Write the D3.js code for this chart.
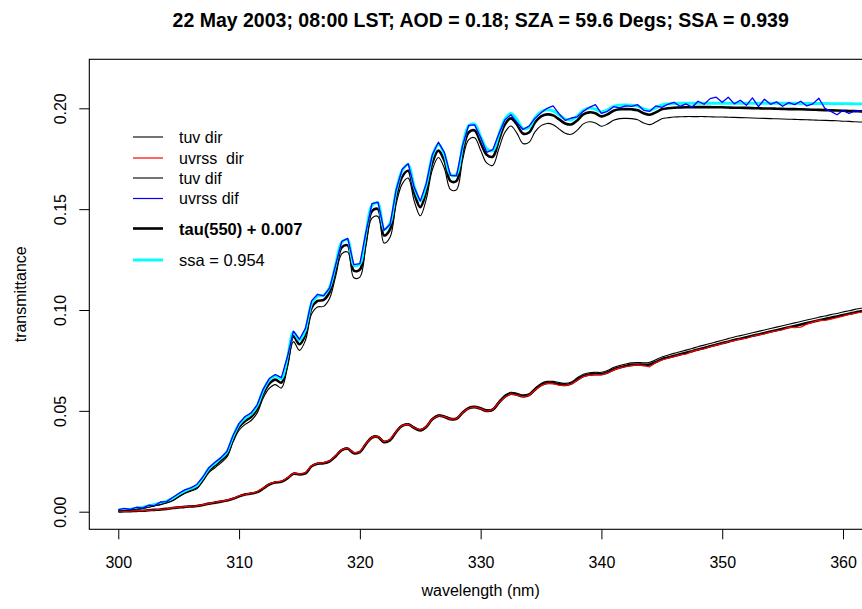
<!DOCTYPE html>
<html>
<head>
<meta charset="utf-8">
<script src="https://cdn.jsdelivr.net/npm/d3@7"></script>
<style>
  body { margin: 0; background: #fff; }
  svg text { font-family: "Liberation Sans", Arial, Helvetica, sans-serif; fill: #000; }
</style>
</head>
<body>
<div id="chart"></div>
<script>
// wavelength grid (nm), 0.5 nm steps
const wavelength = d3.range(300, 362.001, 0.5);

// diffuse transmittances
const tauDif = [.0005,.0008,.0011,.0015,.0020,.0026,.0033,.0040,.0048,.0060,
 .0080,.0097,.0110,.0122,.0160,.0205,.0230,.0255,.0285,.0360,
 .0420,.0450,.0470,.0510,.0585,.0635,.0655,.0640,.0740,.0870,
 .0830,.0880,.1010,.1045,.1050,.1090,.1200,.1310,.1320,.1195,
 .1200,.1350,.1490,.1500,.1370,.1400,.1560,.1660,.1690,.1580,
 .1510,.1590,.1730,.1790,.1740,.1640,.1640,.1780,.1880,.1890,
 .1830,.1770,.1760,.1840,.1920,.1950,.1920,.1875,.1880,.1930,
 .1960,.1970,.1965,.1945,.1925,.1920,.1940,.1970,.1980,.1975,
 .1960,.1970,.1988,.1995,.1996,.1995,.1990,.1975,.1968,.1980,
 .1995,.2000,.2003,.2004,.2005,.2006,.2006,.2006,.2006,.2005,
 .2005,.2004,.2003,.2003,.2002,.2001,.2000,.1999,.1999,.1998,
 .1997,.1996,.1996,.1995,.1994,.1993,.1992,.1991,.1990,.1989,
 .1988,.1987,.1986,.1985,.1984];

const tuvDif = [.0004,.0006,.0009,.0012,.0017,.0022,.0029,.0035,.0043,.0054,
 .0073,.0090,.0102,.0113,.0150,.0194,.0218,.0242,.0271,.0345,
 .0404,.0433,.0452,.0490,.0564,.0612,.0630,.0613,.0713,.0843,
 .0800,.0850,.0980,.1015,.1018,.1058,.1168,.1278,.1287,.1160,
 .1163,.1315,.1455,.1464,.1332,.1361,.1523,.1624,.1654,.1540,
 .1467,.1550,.1695,.1756,.1702,.1598,.1596,.1742,.1844,.1854,
 .1792,.1729,.1717,.1798,.1880,.1912,.1877,.1826,.1831,.1883,
 .1914,.1925,.1919,.1897,.1876,.1871,.1892,.1923,.1933,.1927,
 .1911,.1922,.1941,.1949,.1950,.1949,.1943,.1927,.1919,.1932,
 .1948,.1953,.1957,.1958,.1959,.1959,.1959,.1959,.1958,.1957,
 .1957,.1956,.1955,.1954,.1953,.1952,.1951,.1950,.1949,.1948,
 .1947,.1946,.1945,.1944,.1943,.1942,.1941,.1940,.1939,.1938,
 .1936,.1935,.1933,.1932,.1931];

const ssaDif = [.0007,.0010,.0013,.0017,.0022,.0029,.0036,.0044,.0053,.0066,
 .0086,.0103,.0116,.0129,.0168,.0214,.0240,.0266,.0296,.0372,
 .0433,.0464,.0485,.0526,.0602,.0653,.0674,.0660,.0760,.0890,
 .0851,.0902,.1032,.1068,.1073,.1114,.1225,.1336,.1347,.1222,
 .1228,.1378,.1518,.1530,.1400,.1430,.1590,.1690,.1722,.1612,
 .1542,.1622,.1763,.1822,.1772,.1672,.1672,.1812,.1912,.1922,
 .1860,.1800,.1790,.1868,.1946,.1975,.1945,.1900,.1905,.1954,
 .1983,.1992,.1987,.1967,.1947,.1942,.1962,.1991,.2001,.1996,
 .1982,.1992,.2010,.2016,.2017,.2016,.2011,.1997,.1990,.2002,
 .2017,.2022,.2024,.2025,.2025,.2025,.2025,.2025,.2025,.2025,
 .2025,.2025,.2025,.2025,.2025,.2025,.2025,.2025,.2025,.2025,
 .2025,.2025,.2025,.2024,.2024,.2024,.2024,.2024,.2023,.2023,
 .2023,.2023,.2022,.2022,.2022];

const uvrssDif = [.0010,.0016,.0012,.0022,.0018,.0032,.0030,.0048,.0050,.0070,
 .0090,.0108,.0118,.0135,.0172,.0218,.0245,.0268,.0300,.0378,
 .0438,.0472,.0490,.0530,.0608,.0660,.0680,.0665,.0768,.0895,
 .0855,.0910,.1045,.1078,.1070,.1110,.1225,.1340,.1355,.1225,
 .1230,.1385,.1528,.1535,.1395,.1425,.1595,.1698,.1725,.1608,
 .1540,.1628,.1770,.1832,.1780,.1668,.1665,.1815,.1915,.1918,
 .1855,.1782,.1795,.1872,.1942,.1968,.1930,.1895,.1912,.1950,
 .1978,.2000,.2012,.1972,.1940,.1952,.1958,.1985,.2005,.2018,
 .1975,.1985,.2008,.2002,.2012,.2010,.2018,.1990,.1985,.2012,
 .2005,.2020,.2030,.2010,.2022,.2005,.2035,.2020,.2048,.2055,
 .2030,.2055,.2022,.2040,.2015,.2052,.2008,.2045,.2020,.2032,
 .2010,.2028,.2018,.2035,.2012,.2022,.2050,.2000,.1985,.1968,
 .1990,.1975,.1988,.1985,.1986];

// direct transmittances
const tauDir = [.0001,.0002,.0003,.0004,.0005,.0007,.0009,.0011,.0014,.0018,
 .0021,.0024,.0026,.0028,.0033,.0040,.0045,.0050,.0055,.0064,
 .0076,.0085,.0090,.0097,.0115,.0135,.0145,.0148,.0165,.0188,
 .0185,.0190,.0225,.0238,.0240,.0250,.0275,.0305,.0312,.0290,
 .0295,.0335,.0368,.0370,.0345,.0355,.0395,.0425,.0432,.0415,
 .0403,.0420,.0458,.0475,.0470,.0458,.0460,.0490,.0512,.0518,
 .0510,.0500,.0505,.0540,.0570,.0585,.0580,.0572,.0578,.0605,
 .0628,.0638,.0638,.0632,.0628,.0635,.0655,.0672,.0680,.0682,
 .0682,.0690,.0705,.0715,.0722,.0728,.0730,.0728,.0730,.0742,
 .0756,.0764,.0772,.0780,.0788,.0796,.0804,.0812,.0820,.0828,
 .0836,.0843,.0851,.0858,.0865,.0872,.0879,.0886,.0893,.0900,
 .0907,.0914,.0921,.0928,.0935,.0942,.0949,.0955,.0962,.0968,
 .0975,.0981,.0988,.0994,.1001];

const tuvDir = [.0001,.0002,.0003,.0004,.0005,.0007,.0009,.0011,.0014,.0018,
 .0022,.0025,.0027,.0029,.0034,.0041,.0046,.0051,.0057,.0066,
 .0078,.0087,.0092,.0099,.0118,.0138,.0148,.0151,.0168,.0191,
 .0188,.0193,.0228,.0241,.0244,.0254,.0279,.0309,.0316,.0294,
 .0299,.0339,.0372,.0374,.0350,.0360,.0400,.0430,.0437,.0420,
 .0408,.0425,.0463,.0480,.0476,.0464,.0466,.0496,.0518,.0524,
 .0516,.0506,.0511,.0547,.0577,.0592,.0587,.0579,.0585,.0613,
 .0636,.0646,.0646,.0640,.0636,.0643,.0664,.0681,.0689,.0691,
 .0691,.0700,.0715,.0725,.0732,.0738,.0740,.0738,.0741,.0753,
 .0767,.0776,.0785,.0793,.0801,.0809,.0818,.0826,.0834,.0842,
 .0850,.0858,.0866,.0873,.0880,.0887,.0894,.0901,.0908,.0915,
 .0922,.0929,.0936,.0943,.0950,.0957,.0964,.0970,.0977,.0983,
 .0990,.0996,.1003,.1009,.1016];

const uvrssDir = [.0001,.0002,.0003,.0005,.0005,.0008,.0009,.0012,.0014,.0019,
 .0021,.0025,.0027,.0029,.0035,.0040,.0047,.0051,.0057,.0065,
 .0079,.0085,.0092,.0099,.0117,.0137,.0148,.0150,.0168,.0191,
 .0186,.0193,.0228,.0240,.0243,.0252,.0278,.0308,.0316,.0292,
 .0297,.0338,.0371,.0372,.0347,.0358,.0397,.0428,.0434,.0416,
 .0405,.0421,.0460,.0476,.0472,.0459,.0461,.0492,.0513,.0519,
 .0511,.0498,.0506,.0541,.0569,.0584,.0578,.0570,.0577,.0603,
 .0626,.0637,.0635,.0627,.0626,.0633,.0652,.0670,.0677,.0680,
 .0679,.0688,.0702,.0713,.0720,.0724,.0728,.0724,.0718,.0740,
 .0752,.0761,.0769,.0778,.0781,.0795,.0802,.0808,.0818,.0826,
 .0833,.0842,.0848,.0856,.0860,.0870,.0877,.0882,.0890,.0897,
 .0902,.0915,.0912,.0915,.0930,.0940,.0950,.0948,.0955,.0962,
 .0970,.0978,.0983,.0990,.0995];

const xTicks = [300, 310, 320, 330, 340, 350, 360];
const yTicks = [0, 0.05, 0.10, 0.15, 0.20];

const legendLabels = ["tuv dir", "uvrss  dir", "tuv dif", "uvrss dif", "tau(550) + 0.007", "ssa = 0.954"];
const legendColors = ["black", "red", "black", "blue", "black", "cyan"];

const titleText = "22 May 2003; 08:00 LST; AOD = 0.18; SZA = 59.6 Degs; SSA = 0.939";

const width = 862, height = 609;
const plot = { left: 89.3, right: 872, top: 59.3, bottom: 529.3 };

const svg = d3.select("#chart").append("svg")
    .attr("width", width)
    .attr("height", height);

const x = d3.scaleLinear().domain([297.6, 362.4]).range([plot.left, plot.right]);
const y = d3.scaleLinear().domain([-0.00873, 0.2243]).range([plot.bottom, plot.top]);

// curves
const smooth = d3.line().x((d, i) => x(wavelength[i])).y(d => y(d)).curve(d3.curveCatmullRom.alpha(0.5));
const rough = d3.line().x((d, i) => x(wavelength[i])).y(d => y(d));

const series = [
    { values: tauDir, color: "black", w: 2.6, line: smooth },
    { values: tauDif, color: "black", w: 2.6, line: smooth },
    { values: ssaDif, color: "cyan", w: 2.9, line: smooth },
    { values: tuvDir, color: "black", w: 1.1, line: smooth },
    { values: uvrssDir, color: "red", w: 1.2, line: rough },
    { values: tuvDif, color: "black", w: 1.1, line: smooth },
    { values: uvrssDif, color: "blue", w: 1.3, line: rough },
];

const lines = svg.append("g").attr("class", "lines");
series.forEach(s => {
    lines.append("path")
        .attr("d", s.line(s.values))
        .attr("fill", "none")
        .attr("stroke", s.color)
        .attr("stroke-width", s.w)
        .attr("stroke-linejoin", "round");
});

// box
svg.append("rect")
    .attr("x", plot.left).attr("y", plot.top)
    .attr("width", plot.right - plot.left).attr("height", plot.bottom - plot.top)
    .attr("fill", "none").attr("stroke", "black").attr("stroke-width", 1.1);

// axes
const xAxis = svg.append("g")
    .attr("transform", `translate(0,${plot.bottom})`)
    .call(d3.axisBottom(x).tickValues(xTicks).tickFormat(d3.format("d")).tickSize(10).tickPadding(17));
xAxis.select(".domain").remove();
xAxis.selectAll("text").style("font-size", "16px");

const yAxis = svg.append("g")
    .attr("transform", `translate(${plot.left},0)`)
    .call(d3.axisLeft(y).tickValues(yTicks).tickFormat(d3.format(".2f")).tickSize(10));
yAxis.select(".domain").remove();
yAxis.selectAll("text")
    .attr("transform", "rotate(-90)")
    .attr("x", 0).attr("y", -29).attr("dy", null)
    .attr("text-anchor", "middle")
    .attr("dominant-baseline", "central")
    .style("font-size", "16px");

svg.selectAll(".tick line").attr("stroke", "black").attr("stroke-width", 1);

// titles
svg.append("text")
    .attr("x", (plot.left + plot.right) / 2).attr("y", 27)
    .attr("text-anchor", "middle")
    .style("font-size", "19.5px").style("font-weight", "bold")
    .text(titleText);

svg.append("text")
    .attr("x", (plot.left + plot.right) / 2).attr("y", 596)
    .attr("text-anchor", "middle")
    .style("font-size", "16px")
    .text("wavelength (nm)");

svg.append("text")
    .attr("transform", `translate(20,${(plot.top + plot.bottom) / 2}) rotate(-90)`)
    .attr("text-anchor", "middle")
    .attr("dominant-baseline", "central")
    .style("font-size", "16px")
    .text("transmittance");

// legend
const legendY = [137, 158, 178, 198.5, 228.5, 260];
const legendW = [1.1, 1.2, 1.1, 1.2, 2.6, 2.9];
const legend = svg.append("g").attr("class", "legend");
legendLabels.forEach((label, i) => {
    legend.append("line")
        .attr("x1", 133).attr("x2", 163)
        .attr("y1", legendY[i]).attr("y2", legendY[i])
        .attr("stroke", legendColors[i]).attr("stroke-width", legendW[i]);
    legend.append("text")
        .attr("x", 179).attr("y", legendY[i])
        .attr("dominant-baseline", "central")
        .style("font-size", i >= 4 ? "16.5px" : "16px")
        .style("font-weight", i === 4 ? "bold" : "normal")
        .style("white-space", "pre")
        .text(label);
});
</script>
</body>
</html>
